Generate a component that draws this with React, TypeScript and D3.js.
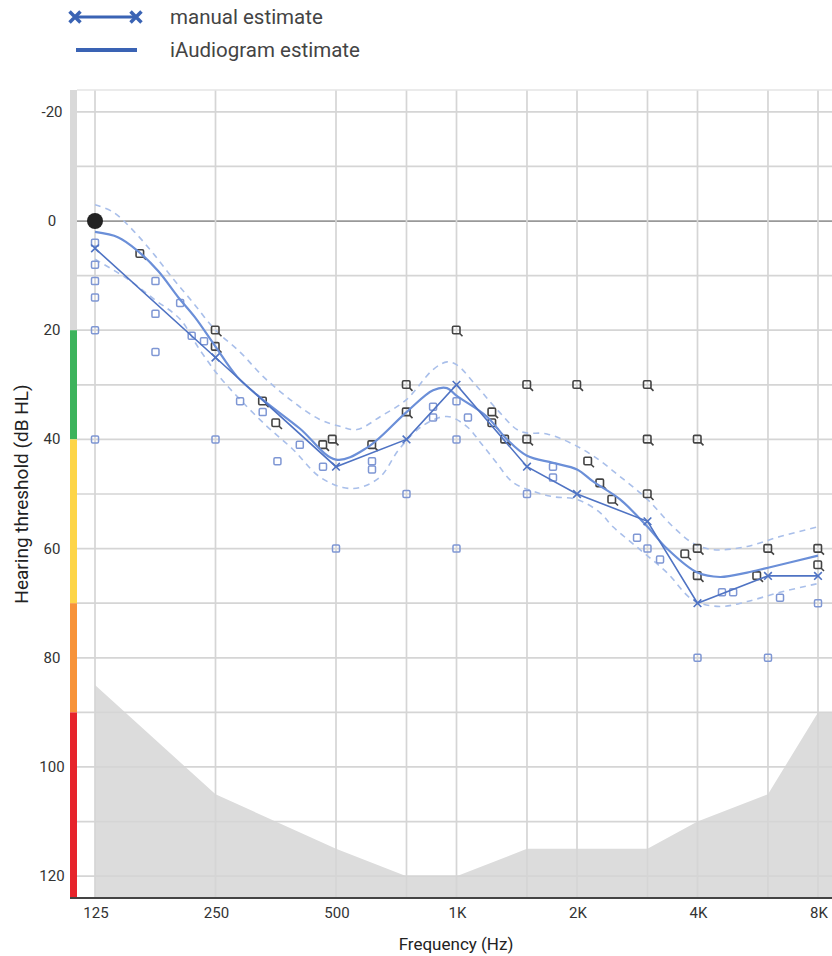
import { useEffect, useRef } from 'react';
import * as d3 from 'd3';

// axis ticks
const freqTicks = [125, 250, 500, 1000, 2000, 4000, 8000];
const freqLabels = ['125', '250', '500', '1K', '2K', '4K', '8K'];
const gridFreqs = [125, 250, 500, 750, 1000, 1500, 2000, 3000, 4000, 6000, 8000];
const dbTicks = [-20, 0, 20, 40, 60, 80, 100, 120];

// severity bar on the left
const bandFrom = [-24, 20, 40, 70, 90];
const bandTo = [20, 40, 70, 90, 124];
const bandColors = ['#d9d9d9', '#3db35c', '#fdd548', '#f7933a', '#e6242b'];

// manual estimate (line with x markers)
const manualFreq = [125, 250, 500, 750, 1000, 1500, 2000, 3000, 4000, 6000, 8000];
const manualDb = [5, 25, 45, 40, 30, 45, 50, 55, 70, 65, 65];

// iAudiogram estimate, smooth curve
const estFreq = [125, 143, 160, 180, 202, 222, 250, 283, 328, 406, 500, 598, 750, 874, 947, 1000, 1190, 1337, 1500, 1742, 2000, 2193, 2562, 3000, 3356, 4000, 4555, 5320, 6000, 8000];
const estDb = [2, 3, 5.5, 9.2, 14, 17.6, 23, 28.5, 32.7, 38, 43.7, 41.5, 35, 31, 30.6, 32, 35.8, 40, 43, 44.3, 45.5, 47.7, 51, 56, 60, 64.4, 65.2, 64.4, 63.5, 61.3];

// confidence band, upper edge
const upFreq = [125, 139, 156, 175, 196, 220, 250, 288, 328, 384, 454, 511, 564, 646, 750, 874, 947, 1000, 1125, 1262, 1441, 1683, 1921, 2193, 2562, 3000, 3475, 3898, 4375, 5320, 6430, 8000];
const upDb = [-3, -1.6, 1.8, 6, 10.6, 15, 20, 24, 28.4, 32.7, 36.3, 37.6, 38.2, 35.8, 32.7, 27.2, 25.8, 26.3, 30.3, 34.5, 38.5, 39, 40.6, 43, 46.8, 51, 56, 59, 60.2, 59.6, 57.8, 56];

// confidence band, lower edge
const loFreq = [125, 150, 177, 204, 228, 255, 288, 336, 390, 454, 520, 575, 646, 719, 819, 947, 1060, 1146, 1250, 1385, 1553, 1742, 2000, 2283, 2460, 2874, 3356, 3898, 4555, 5320, 6430, 8000];
const loDb = [7, 10.5, 14.5, 18, 23.5, 28.4, 32.7, 37.6, 41.8, 46.8, 48.8, 48.8, 46.8, 41.8, 37.6, 35.8, 37.6, 40.5, 44, 47.9, 49.5, 50.5, 51, 53.4, 56, 60.2, 64.4, 69.4, 70.6, 69.7, 68, 66.4];

// individual responses (hollow squares)
const sqFreq = [125, 125, 125, 125, 125, 125, 177, 177, 177, 204, 218, 234, 250, 288, 328, 357, 406, 464, 500, 615, 615, 750, 874, 874, 1000, 1000, 1000, 1068, 1500, 1742, 1742, 2825, 3000, 3225, 4000, 4605, 4910, 6000, 6430, 8000];
const sqDb = [4, 8, 11, 14, 20, 40, 11, 17, 24, 15, 21, 22, 40, 33, 35, 44, 41, 45, 60, 44, 45.5, 50, 34, 36, 33, 40, 60, 36, 50, 45, 47, 58, 60, 62, 80, 68, 68, 80, 69, 70];

// responses marked with the magnifier icon
const magFreq = [162, 250, 250, 328, 354, 464, 490, 615, 750, 750, 1000, 1227, 1227, 1321, 1500, 1500, 2000, 2130, 2283, 2446, 3000, 3000, 3000, 3723, 4000, 4000, 4000, 5632, 6000, 8000, 8000];
const magDb = [6, 20, 23, 33, 37, 41, 40, 41, 30, 35, 20, 35, 37, 40, 30, 40, 30, 44, 48, 51, 30, 40, 50, 61, 40, 60, 65, 65, 60, 60, 63];

// uncomfortable / max level floor (grey area)
const floorFreq = [125, 250, 500, 750, 1000, 1500, 2000, 3000, 4000, 6000, 8000];
const floorDb = [85, 105, 115, 120, 120, 115, 115, 115, 110, 105, 90];

const refPoint = { freq: 125, db: 0 };

const App = () => {
    const chartRef = useRef<SVGSVGElement | null>(null);

    useEffect(() => {
        const width = 832;
        const height = 956;
        const plotLeft = 77;
        const plotRight = 832;
        const font = 'Roboto, "Noto Sans", sans-serif';

        const x = d3.scaleLog().base(2).domain([125, 8000]).range([95, 818]);
        const y = d3.scaleLinear().domain([-24, 124]).range([90, 898]);

        const svg = d3.select(chartRef.current);
        svg.selectAll('*').remove();
        svg.attr('width', width).attr('height', height).attr('viewBox', [0, 0, width, height]);

        svg.append('rect').attr('width', width).attr('height', height).attr('fill', '#fff');

        // grey floor area, carried on to the right edge
        const floorPts = floorFreq.map((f, i) => [f, floorDb[i]] as [number, number]);
        floorPts.push([x.invert(plotRight), floorDb[floorDb.length - 1]]);
        svg.append('path')
            .datum(floorPts)
            .attr('fill', '#dcdcdc')
            .attr('d', d3.area<[number, number]>()
                .x(d => x(d[0]))
                .y0(y(124))
                .y1(d => y(d[1])));

        // grid
        const grid = svg.append('g').attr('stroke', '#d5d5d5').attr('stroke-width', 1.7);
        grid.selectAll('line.h')
            .data(d3.range(-20, 121, 10))
            .join('line')
            .attr('x1', plotLeft).attr('x2', plotRight)
            .attr('y1', d => y(d)).attr('y2', d => y(d))
            .attr('stroke', d => d === 0 ? '#999' : '#d5d5d5');
        grid.selectAll('line.v')
            .data(gridFreqs)
            .join('line')
            .attr('x1', d => x(d)).attr('x2', d => x(d))
            .attr('y1', y(-24)).attr('y2', y(124));
        svg.append('line')
            .attr('x1', plotLeft).attr('x2', plotRight)
            .attr('y1', y(-24)).attr('y2', y(-24))
            .attr('stroke', '#e4e4e4').attr('stroke-width', 1.5);

        // severity bar
        svg.append('g').selectAll('rect')
            .data(bandColors)
            .join('rect')
            .attr('x', 70).attr('width', 7)
            .attr('y', (d, i) => y(bandFrom[i]))
            .attr('height', (d, i) => y(bandTo[i]) - y(bandFrom[i]))
            .attr('fill', d => d);

        // bottom axis line
        svg.append('line')
            .attr('x1', 70).attr('x2', plotRight)
            .attr('y1', y(124)).attr('y2', y(124))
            .attr('stroke', '#444').attr('stroke-width', 2);

        // tick labels
        svg.append('g')
            .attr('font-family', font).attr('font-size', 15).attr('fill', '#333')
            .attr('text-anchor', 'middle')
            .selectAll('text')
            .data(freqTicks)
            .join('text')
            .attr('x', d => x(d) + 1).attr('y', 918)
            .text((d, i) => freqLabels[i]);
        svg.append('g')
            .attr('font-family', font).attr('font-size', 15).attr('fill', '#333')
            .attr('text-anchor', 'middle')
            .selectAll('text')
            .data(dbTicks)
            .join('text')
            .attr('x', 52).attr('y', d => y(d) + 5)
            .text(d => d);

        svg.append('text')
            .attr('x', 456).attr('y', 950)
            .attr('text-anchor', 'middle')
            .attr('font-family', font).attr('font-size', 17).attr('fill', '#222')
            .text('Frequency (Hz)');
        svg.append('text')
            .attr('transform', `translate(28,${y(50)}) rotate(-90)`)
            .attr('text-anchor', 'middle')
            .attr('font-family', font).attr('font-size', 19).attr('fill', '#222')
            .text('Hearing threshold (dB HL)');

        const curve = d3.line<[number, number]>()
            .x(d => x(d[0]))
            .y(d => y(d[1]))
            .curve(d3.curveCatmullRom.alpha(0.5));

        // confidence band
        const band = svg.append('g')
            .attr('fill', 'none')
            .attr('stroke', '#a9bfea')
            .attr('stroke-width', 1.6)
            .attr('stroke-dasharray', '6,5');
        band.append('path').attr('d', curve(upFreq.map((f, i) => [f, upDb[i]])));
        band.append('path').attr('d', curve(loFreq.map((f, i) => [f, loDb[i]])));

        // squares
        svg.append('g')
            .attr('fill', 'none').attr('stroke', '#7f97d4').attr('stroke-width', 1.5)
            .selectAll('rect')
            .data(sqFreq)
            .join('rect')
            .attr('x', d => x(d) - 3.5)
            .attr('y', (d, i) => y(sqDb[i]) - 3.5)
            .attr('width', 7).attr('height', 7)
            .attr('rx', 1.2);

        // magnifier icons
        const mags = svg.append('g')
            .attr('fill', 'none').attr('stroke', '#444').attr('stroke-width', 1.6)
            .selectAll('g')
            .data(magFreq)
            .join('g')
            .attr('transform', (d, i) => `translate(${x(d)},${y(magDb[i])})`);
        mags.append('rect')
            .attr('x', -4).attr('y', -4).attr('width', 7.5).attr('height', 7.5).attr('rx', 1.2);
        mags.append('line')
            .attr('x1', 3).attr('y1', 3).attr('x2', 6).attr('y2', 6);

        // iAudiogram estimate
        svg.append('path')
            .attr('fill', 'none')
            .attr('stroke', '#6b8fd8')
            .attr('stroke-width', 2.2)
            .attr('d', curve(estFreq.map((f, i) => [f, estDb[i]])));

        // manual estimate
        svg.append('path')
            .attr('fill', 'none')
            .attr('stroke', '#4f73c3')
            .attr('stroke-width', 1.6)
            .attr('d', d3.line<number>()
                .x(d => x(d))
                .y((d, i) => y(manualDb[i]))(manualFreq));
        const cross = d3.symbol().type(d3.symbolX).size(40);
        svg.append('g')
            .attr('fill', 'none').attr('stroke', '#4f73c3').attr('stroke-width', 1.6)
            .selectAll('path')
            .data(manualFreq)
            .join('path')
            .attr('transform', (d, i) => `translate(${x(d)},${y(manualDb[i])})`)
            .attr('d', cross);

        // reference dot
        svg.append('circle')
            .attr('cx', x(refPoint.freq)).attr('cy', y(refPoint.db))
            .attr('r', 8).attr('fill', '#222');

        // legend
        const legend = svg.append('g');
        legend.append('line')
            .attr('x1', 75).attr('x2', 136).attr('y1', 17).attr('y2', 17)
            .attr('stroke', '#3a63b4').attr('stroke-width', 3);
        legend.selectAll('path.m')
            .data([75, 136])
            .join('path')
            .attr('transform', d => `translate(${d},17)`)
            .attr('d', d3.symbol().type(d3.symbolX).size(80))
            .attr('fill', 'none').attr('stroke', '#3a63b4').attr('stroke-width', 3.5);
        legend.append('line')
            .attr('x1', 76).attr('x2', 137).attr('y1', 50).attr('y2', 50)
            .attr('stroke', '#3a63b4').attr('stroke-width', 4);
        legend.selectAll('text')
            .data(['manual estimate', 'iAudiogram estimate'])
            .join('text')
            .attr('x', 170).attr('y', (d, i) => 24 + i * 33)
            .attr('font-family', font).attr('font-size', 20.5).attr('fill', '#444')
            .text(d => d);
    }, []);

    return <svg ref={chartRef} style={{ position: 'absolute', left: 0, top: 0, display: 'block' }} />;
};

export default App;
